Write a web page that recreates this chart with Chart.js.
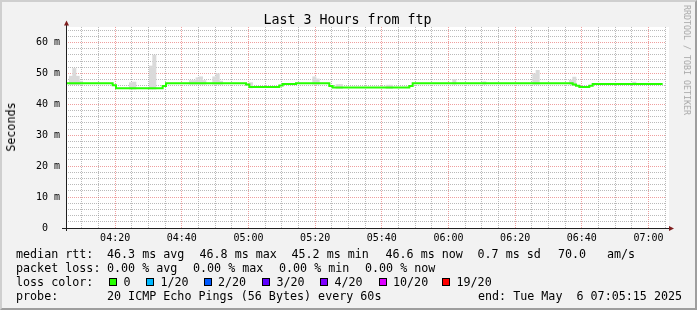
<!DOCTYPE html>
<html lang="en">
<head>
<meta charset="UTF-8">
<title>Last 3 Hours from ftp</title>
<style>
    body {
        margin: 0;
        background: #fff;
    }
    #wrap {
        position: relative;
        width: 697px;
        height: 310px;
        background: #f2f2f2;
        overflow: hidden;
        font-family: 'DejaVu Sans Mono', monospace;
        color: #000;
    }
    #chart {
        position: absolute;
        left: 0;
        top: 0;
    }
    #frame {
        position: absolute;
        left: 0;
        top: 0;
        width: 697px;
        height: 310px;
        box-sizing: border-box;
        border-top: 2px solid #cfcfcf;
        border-left: 2px solid #cfcfcf;
        border-right: 2px solid #9e9e9e;
        border-bottom: 2px solid #9e9e9e;
        pointer-events: none;
    }
    .t {
        position: absolute;
        white-space: pre;
        font-size: 11.7px;
        line-height: 14px;
    }
    .title {
        position: absolute;
        left: 0;
        width: 695px;
        top: 12px;
        text-align: center;
        font-size: 13.3px;
        line-height: 16px;
        white-space: pre;
    }
    .ylab {
        position: absolute;
        left: 11px;
        top: 127px;
        transform: translate(-50%, -50%) rotate(-90deg);
        font-size: 11.7px;
        white-space: pre;
    }
    .mark {
        position: absolute;
        left: 687px;
        top: 60px;
        transform: translate(-50%, -50%) rotate(90deg);
        font-size: 8.3px;
        color: #a8a8a8;
        white-space: pre;
    }
    .box {
        position: absolute;
        width: 8px;
        height: 8px;
        box-sizing: border-box;
        border: 1px solid #000;
        top: 278px;
    }
</style>
</head>
<body>
<div id="wrap">
    <canvas id="chart" width="697" height="310"></canvas>
    <div class="title">Last 3 Hours from ftp</div>
    <div class="ylab">Seconds</div>
    <div class="mark">RRDTOOL / TOBI OETIKER</div>

    <div class="t" style="left:16px;top:247px">median rtt:</div>
    <div class="t" style="left:107px;top:247px">46.3 ms avg</div>
    <div class="t" style="left:199.5px;top:247px">46.8 ms max</div>
    <div class="t" style="left:291.5px;top:247px">45.2 ms min</div>
    <div class="t" style="left:385.5px;top:247px">46.6 ms now</div>
    <div class="t" style="left:477.5px;top:247px">0.7 ms sd</div>
    <div class="t" style="left:558px;top:247px">70.0</div>
    <div class="t" style="left:607px;top:247px">am/s</div>

    <div class="t" style="left:16px;top:261px">packet loss:</div>
    <div class="t" style="left:107px;top:261px">0.00 % avg</div>
    <div class="t" style="left:193px;top:261px">0.00 % max</div>
    <div class="t" style="left:279px;top:261px">0.00 % min</div>
    <div class="t" style="left:365px;top:261px">0.00 % now</div>

    <div class="t" style="left:16px;top:275px">loss color:</div>
    <div id="lossLegend"></div>

    <div class="t" style="left:16px;top:289px">probe:</div>
    <div class="t" style="left:107px;top:289px">20 ICMP Echo Pings (56 Bytes) every 60s</div>
    <div class="t" style="left:478px;top:289px">end: Tue May  6 07:05:15 2025</div>

    <div id="frame"></div>
</div>

<script src="https://cdn.jsdelivr.net/npm/chart.js@4.4.1/dist/chart.umd.min.js"></script>
<script>
    // graph window: 3 hours ending 07:05:15, one sample per minute
    const startTime = '04:05:15';
    const spanMinutes = 180;

    const timeLabels = ['04:20', '04:40', '05:00', '05:20', '05:40', '06:00', '06:20', '06:40', '07:00'];
    const yTickValues = [0, 10, 20, 30, 40, 50, 60];
    const yTickLabels = ['0  ', '10 m', '20 m', '30 m', '40 m', '50 m', '60 m'];

    // median rtt (ms), one value per minute from 04:05:15
    const medianRtt = [
        46.8, 46.8, 46.8, 46.8, 46.8, 46.8, 46.8, 46.8, 46.8, 46.8,
        46.8, 46.8, 46.8, 46.8, 46.2, 45.2, 45.2, 45.2, 45.2, 45.2,
        45.2, 45.2, 45.2, 45.2, 45.2, 45.2, 45.2, 45.2, 45.2, 45.9,
        46.8, 46.8, 46.8, 46.8, 46.8, 46.8, 46.8, 46.8, 46.8, 46.8,
        46.8, 46.8, 46.8, 46.8, 46.8, 46.8, 46.8, 46.8, 46.8, 46.8,
        46.8, 46.8, 46.8, 46.8, 46.4, 45.6, 45.6, 45.6, 45.6, 45.6,
        45.6, 45.6, 45.6, 45.6, 46.1, 46.6, 46.6, 46.6, 46.6, 46.8,
        46.8, 46.8, 46.8, 46.8, 46.8, 46.8, 46.8, 46.8, 46.8, 45.9,
        45.4, 45.4, 45.4, 45.4, 45.4, 45.4, 45.4, 45.4, 45.4, 45.4,
        45.4, 45.4, 45.4, 45.4, 45.4, 45.4, 45.4, 45.4, 45.4, 45.4,
        45.4, 45.4, 45.4, 45.9, 46.8, 46.8, 46.8, 46.8, 46.8, 46.8,
        46.8, 46.8, 46.8, 46.8, 46.8, 46.8, 46.8, 46.8, 46.8, 46.8,
        46.8, 46.8, 46.8, 46.8, 46.8, 46.8, 46.8, 46.8, 46.8, 46.8,
        46.8, 46.8, 46.8, 46.8, 46.8, 46.8, 46.8, 46.8, 46.8, 46.8,
        46.8, 46.8, 46.8, 46.8, 46.8, 46.8, 46.8, 46.8, 46.8, 46.8,
        46.8, 46.8, 46.4, 46.0, 45.6, 45.6, 45.6, 46.0, 46.6, 46.6,
        46.6, 46.6, 46.6, 46.6, 46.6, 46.6, 46.6, 46.6, 46.6, 46.6,
        46.6, 46.6, 46.6, 46.6, 46.6, 46.6, 46.6, 46.6, 46.6, 46.6
    ];

    // smoke (ping spread) where it shows above the median line
    const smokeMinute = [1, 2, 3, 4, 19, 20, 25, 26, 37, 38, 39, 40, 41, 44, 45, 46, 55, 74, 75,
                         81, 82, 96, 97, 116, 125, 140, 141, 151, 152, 170];
    const smokeLow = [46.4, 46.4, 46.4, 46.5, 44.9, 44.9, 44.9, 44.9, 46.5, 46.5, 46.5, 46.5, 46.5,
                      46.5, 46.5, 46.5, 45.3, 46.5, 46.5, 45.1, 45.1, 45.1, 45.1, 46.5, 46.5, 46.5,
                      46.5, 46.5, 46.2, 46.3];
    const smokeHigh = [49.1, 51.6, 49.1, 47.5, 47.0, 47.2, 52.4, 55.9, 47.7, 47.7, 48.6, 48.9, 47.7,
                       48.9, 49.9, 47.5, 47.0, 48.9, 48.2, 46.4, 46.4, 46.2, 46.2, 48.0, 47.3, 49.9,
                       51.0, 47.8, 48.8, 47.2];

    const lossLabels = ['0', '1/20', '2/20', '3/20', '4/20', '10/20', '19/20'];
    const lossColors = ['#26ff00', '#00b8ff', '#0059ff', '#5e00ff', '#7e00ff', '#dd00ff', '#ff0000'];

    // loss colour legend row
    const boxLeft = [109, 146, 203.5, 262, 320, 378.5, 442];
    const legend = document.getElementById('lossLegend');
    lossLabels.forEach((label, i) => {
        const box = document.createElement('div');
        box.className = 'box';
        box.style.left = boxLeft[i] + 'px';
        box.style.background = lossColors[i];
        legend.appendChild(box);
        const txt = document.createElement('div');
        txt.className = 't';
        txt.style.left = (boxLeft[i] + 14.5) + 'px';
        txt.style.top = '275px';
        txt.textContent = label;
        legend.appendChild(txt);
    });

    function clockMinutes(hhmm) {
        const p = hhmm.split(':').map(Number);
        return p[0] * 60 + p[1] + (p[2] || 0) / 60;
    }
    const start = clockMinutes(startTime);
    const toX = hhmm => clockMinutes(hhmm) - start;

    // every 5 minutes on the clock for the minor grid
    const gridTicks = [];
    for (let m = Math.ceil(start / 5) * 5; m - start <= spanMinutes; m += 5) gridTicks.push(m - start);

    const isMajorTime = v => {
        const r = (v + start) % 20;
        return r < 0.01 || r > 19.99;
    };

    const minorGrid = 'rgba(140,140,140,0.6)';
    const majorGrid = 'rgba(225,80,80,0.55)';

    const rrdFrame = {
        id: 'rrdFrame',
        beforeDraw(chart) {
            const { ctx, chartArea: a } = chart;
            ctx.save();
            ctx.fillStyle = '#fff';
            ctx.fillRect(a.left, a.top, a.right - a.left + 3, a.bottom - a.top);
            ctx.restore();
        },
        afterDraw(chart) {
            const { ctx, chartArea: a } = chart;
            ctx.save();
            ctx.strokeStyle = '#1f1f1f';
            ctx.lineWidth = 1;
            ctx.beginPath();
            ctx.moveTo(a.left + 0.5, a.bottom + 3);
            ctx.lineTo(a.left + 0.5, a.top - 3);
            ctx.moveTo(a.left - 4, a.bottom + 0.5);
            ctx.lineTo(a.right + 3, a.bottom + 0.5);
            ctx.stroke();
            ctx.fillStyle = '#7f1f1f';
            ctx.beginPath();
            ctx.moveTo(a.left - 2, a.top - 1.5);
            ctx.lineTo(a.left + 3, a.top - 1.5);
            ctx.lineTo(a.left + 0.5, a.top - 6.5);
            ctx.fill();
            ctx.beginPath();
            ctx.moveTo(a.right + 3, a.bottom - 2);
            ctx.lineTo(a.right + 3, a.bottom + 3);
            ctx.lineTo(a.right + 8, a.bottom + 0.5);
            ctx.fill();
            ctx.restore();
        }
    };

    new Chart(document.getElementById('chart'), {
        type: 'line',
        data: {
            datasets: [{
                type: 'line',
                data: medianRtt.map((v, i) => ({ x: i, y: v })),
                borderColor: '#26ff00',
                borderWidth: 2,
                stepped: true,
                pointRadius: 0,
                order: 0
            }, {
                type: 'bar',
                data: smokeMinute.map((m, i) => ({ x: m + 0.5, y: [smokeLow[i], smokeHigh[i]] })),
                backgroundColor: '#dadada',
                borderWidth: 0,
                barPercentage: 1,
                categoryPercentage: 1,
                grouped: false,
                order: 1
            }]
        },
        options: {
            responsive: false,
            animation: false,
            events: [],
            layout: { padding: { left: 0, top: 27, right: 31, bottom: 62 } },
            plugins: { legend: { display: false }, tooltip: { enabled: false } },
            scales: {
                x: {
                    type: 'linear',
                    min: 0,
                    max: spanMinutes,
                    offset: false,
                    afterFit: s => { s.height = 20; },
                    afterBuildTicks: s => { s.ticks = gridTicks.map(v => ({ value: v })); },
                    grid: {
                        offset: false,
                        drawTicks: false,
                        lineWidth: 1,
                        color: c => isMajorTime(c.tick.value) ? majorGrid : minorGrid
                    },
                    border: { display: false, dash: [1, 1] },
                    ticks: {
                        autoSkip: false,
                        maxRotation: 0,
                        padding: 4,
                        color: '#000',
                        font: { family: 'DejaVu Sans Mono', size: 10 },
                        callback: v => {
                            const hit = timeLabels.find(l => Math.abs(toX(l) - v) < 0.01);
                            return hit || '';
                        }
                    }
                },
                y: {
                    min: 0,
                    max: 65,
                    afterFit: s => { s.width = 66; },
                    afterBuildTicks: s => {
                        const t = [];
                        for (let v = 0; v <= 64; v += 2) t.push({ value: v });
                        s.ticks = t;
                    },
                    grid: {
                        drawTicks: false,
                        lineWidth: 1,
                        color: c => c.tick.value % 10 === 0 ? majorGrid : minorGrid
                    },
                    border: { display: false, dash: [1, 1] },
                    ticks: {
                        autoSkip: false,
                        padding: 6,
                        color: '#000',
                        font: { family: 'DejaVu Sans Mono', size: 10 },
                        callback: v => {
                            const k = yTickValues.indexOf(v);
                            return k >= 0 ? yTickLabels[k] : '';
                        }
                    }
                }
            }
        },
        plugins: [rrdFrame]
    });
</script>
</body>
</html>
